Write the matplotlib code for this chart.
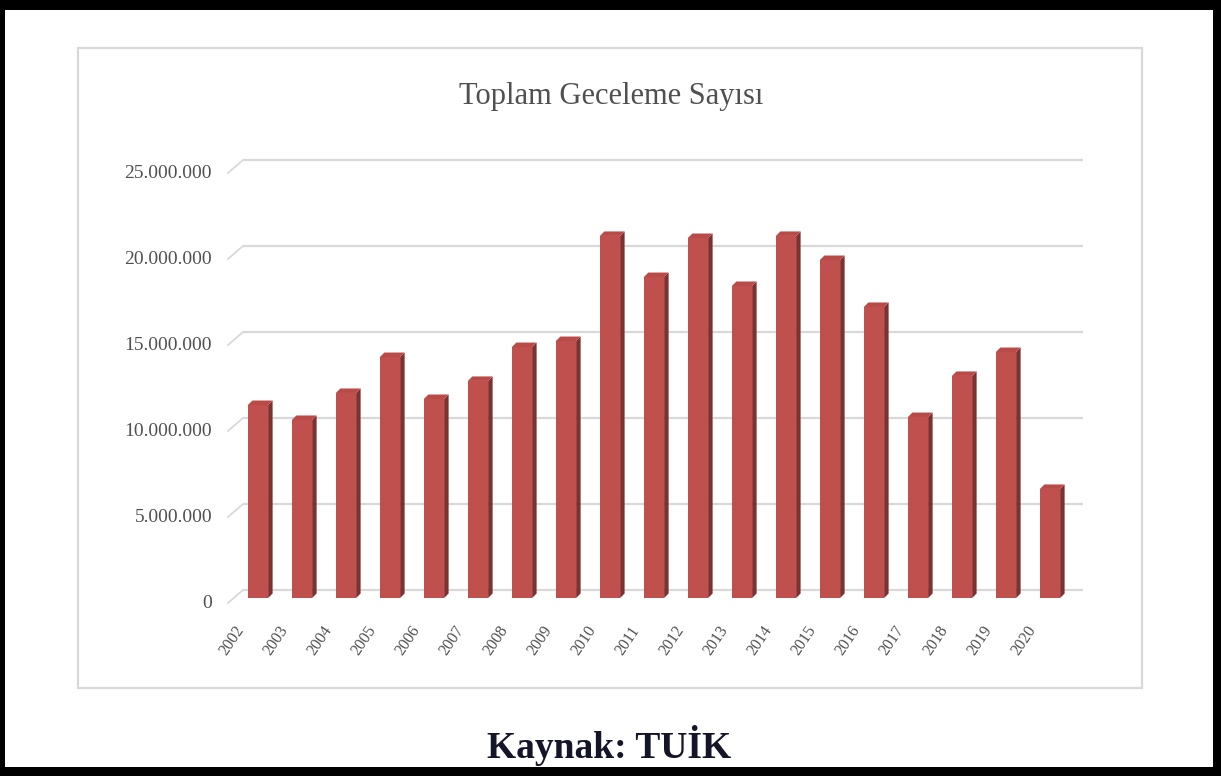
import matplotlib
matplotlib.use("Agg")
import matplotlib.pyplot as plt
import matplotlib.transforms as mtransforms
from matplotlib.patches import Rectangle, Polygon
import numpy as np

# ---------------- data ----------------
years = ["2002", "2003", "2004", "2005", "2006", "2007", "2008", "2009", "2010",
         "2011", "2012", "2013", "2014", "2015", "2016", "2017", "2018", "2019", "2020"]
overnights = [11220000, 10350000, 11920000, 14010000, 11570000, 12620000, 14590000,
              14940000, 21050000, 18660000, 20930000, 18140000, 21050000, 19650000,
              16920000, 10520000, 12910000, 14300000, 6340000]
y_ticks = [0, 5000000, 10000000, 15000000, 20000000, 25000000]
title = "Toplam Geceleme Sayısı"
source = "Kaynak: TUİK"

# ---------------- figure ----------------
W, H = 1221, 776
DPI = 100
fig = plt.figure(figsize=(W / DPI, H / DPI), dpi=DPI)
fig.patch.set_facecolor("black")

# white page inside black frame
fig.add_artist(Rectangle((5 / W, 9 / H), (1213 - 5) / W, (766 - 9) / H,
                         transform=fig.transFigure, facecolor="white",
                         edgecolor="none", zorder=0))
# chart area border
fig.add_artist(Rectangle((78 / W, 88 / H), (1142 - 78) / W, (728 - 88) / H,
                         transform=fig.transFigure, facecolor="none",
                         edgecolor="#d9d9d9", lw=1.6, zorder=1))

serif = ["Liberation Serif", "DejaVu Serif"]
grey = "#505050"

ax = fig.add_axes([236 / W, 178 / H, 836 / W, 430 / H])
ax.set_xlim(-0.5, len(years) - 0.5)
ax.set_ylim(0, 25000000)
ax.axis("off")
ax.patch.set_alpha(0)

x = np.arange(len(years))
bars = ax.bar(x, overnights, width=0.46, color="#c0504d", edgecolor="none", zorder=5)

ident = mtransforms.IdentityTransform()
d = 4.5  # depth offset of bar in pixels
for r in bars:
    (x0, y0) = ax.transData.transform((r.get_x(), 0))
    (x1, y1) = ax.transData.transform((r.get_x() + r.get_width(), r.get_height()))
    side = Polygon([(x1, y0), (x1, y1), (x1 + d, y1 + d), (x1 + d, y0 + d)],
                   closed=True, transform=ident, facecolor="#7e3230",
                   edgecolor="none", zorder=4, clip_on=False)
    top = Polygon([(x0, y1), (x1, y1), (x1 + d, y1 + d), (x0 + d, y1 + d)],
                  closed=True, transform=ident, facecolor="#b94a47",
                  edgecolor="none", zorder=6, clip_on=False)
    ax.add_patch(side)
    ax.add_patch(top)

# back-wall gridlines with perspective stubs
xl = ax.transData.transform((-0.5, 0))[0]
xr = ax.transData.transform((len(years) - 0.5, 0))[0]
for v in y_ticks:
    yf = ax.transData.transform((0, v))[1]
    ax.plot([xl + 7, xr + 11], [yf + 8, yf + 8], color="#d9d9d9", lw=1.6,
            transform=ident, zorder=1, clip_on=False, solid_capstyle="butt")
    ax.plot([xl - 8, xl + 7], [yf - 5, yf + 8], color="#d9d9d9", lw=1.3,
            transform=ident, zorder=1, clip_on=False)

# y tick labels
ylab_tr = ax.get_yaxis_transform() + mtransforms.ScaledTranslation(-24 / DPI, -5 / DPI, fig.dpi_scale_trans)
for v in y_ticks:
    lab = "0" if v == 0 else f"{v:,}".replace(",", ".")
    ax.text(0, v, lab, transform=ylab_tr, ha="right", va="center",
            fontsize=14, family=serif, color=grey)

# x tick labels (rotated)
xlab_tr = ax.transData + mtransforms.ScaledTranslation(-24 / DPI, -25 / DPI, fig.dpi_scale_trans)
for xi, yr in zip(x, years):
    ax.text(xi, 0, yr, transform=xlab_tr, ha="right", va="top", rotation=56,
            rotation_mode="anchor", fontsize=11.5, family=serif, color=grey)

fig.text(611 / W, 672 / H, title, ha="center", va="baseline", fontsize=22,
         family=serif, color=grey)
fig.text(609 / W, 18 / H, source, ha="center", va="baseline", fontsize=27,
         family=serif, fontweight="bold", color="#15152a")

fig.savefig("out.png", dpi=DPI)
